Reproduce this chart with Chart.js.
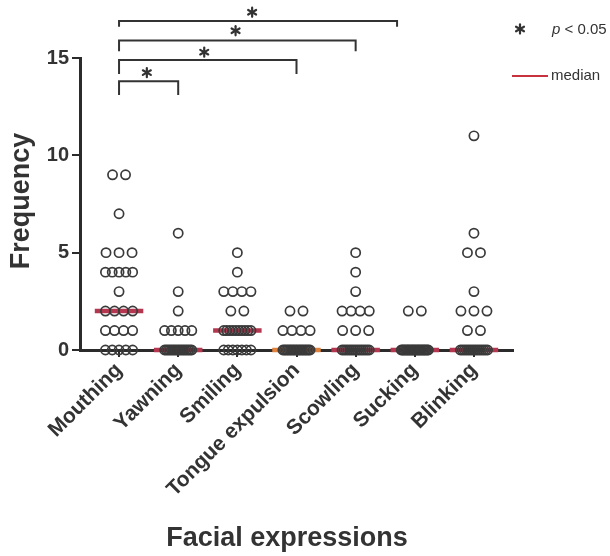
<!DOCTYPE html>
<html>
<head>
<meta charset="utf-8">
<script src="https://cdn.jsdelivr.net/npm/chart.js@4"></script>
<style>
  html, body { margin: 0; padding: 0; background: #fff; }
</style>
</head>
<body>
<canvas id="chart" width="610" height="556"></canvas>
<script>
// Facial expressions - scatter dot plot with medians and significance brackets

const categories = ['Mouthing', 'Yawning', 'Smiling', 'Tongue expulsion', 'Scowling', 'Sucking', 'Blinking'];

// per-subject frequencies (n = 25 each)
const mouthing = [9, 9, 7, 5, 5, 5, 4, 4, 4, 4, 4, 3, 2, 2, 2, 2, 1, 1, 1, 1, 0, 0, 0, 0, 0];
const yawning = [6, 3, 2, 1, 1, 1, 1, 1, 0, 0, 0, 0, 0, 0, 0, 0, 0, 0, 0, 0, 0, 0, 0, 0, 0];
const smiling = [5, 4, 3, 3, 3, 3, 2, 2, 1, 1, 1, 1, 1, 1, 1, 1, 1, 1, 0, 0, 0, 0, 0, 0, 0];
const tongueExpulsion = [2, 2, 1, 1, 1, 1, 0, 0, 0, 0, 0, 0, 0, 0, 0, 0, 0, 0, 0, 0, 0, 0, 0, 0, 0];
const scowling = [5, 4, 3, 2, 2, 2, 2, 1, 1, 1, 0, 0, 0, 0, 0, 0, 0, 0, 0, 0, 0, 0, 0, 0, 0];
const sucking = [2, 2, 0, 0, 0, 0, 0, 0, 0, 0, 0, 0, 0, 0, 0, 0, 0, 0, 0, 0, 0, 0, 0, 0, 0];
const blinking = [11, 6, 5, 5, 3, 2, 2, 2, 1, 1, 0, 0, 0, 0, 0, 0, 0, 0, 0, 0, 0, 0, 0, 0, 0];
const groups = [mouthing, yawning, smiling, tongueExpulsion, scowling, sucking, blinking];

const yTicks = [0, 5, 10, 15];

// significance brackets (category index positions, frequency heights)
const bracketFrom = [0, 0, 0, 0];
const bracketTo = [1, 3, 4, 4.7];
const bracketTop = [13.8, 14.9, 15.9, 16.9];
const bracketBottom = [13.1, 14.18, 15.35, 16.6];
const starX = [0.47, 1.44, 1.97, 2.25];
const starY = [14.25, 15.3, 16.4, 17.35];

const TEXT = '#333333';
const AXIS = '#2b2b2b';
const DOT = '#3a3a3a';
const MEDIAN = '#b5374f';
const FONT = "'Liberation Sans', Arial, Helvetica, sans-serif";
const medianColors = [MEDIAN, MEDIAN, MEDIAN, '#e0813d', MEDIAN, MEDIAN, MEDIAN];

const DOT_STEP = 0.22;       // spacing between neighbouring dots (x units)
const DOT_MAX_SPREAD = 0.46; // widest a row of dots may get
const MEDIAN_HALF = 0.41;

function median(values) {
    const s = [...values].sort((a, b) => a - b);
    const m = Math.floor(s.length / 2);
    return s.length % 2 ? s[m] : (s[m - 1] + s[m]) / 2;
}

// spread equal values sideways, like a scatter dot plot
function dotPoints(values, index) {
    const counts = {};
    values.forEach(v => { counts[v] = (counts[v] || 0) + 1; });
    const pts = [];
    Object.keys(counts).forEach(key => {
        const n = counts[key];
        const spread = Math.min((n - 1) * DOT_STEP, DOT_MAX_SPREAD);
        for (let k = 0; k < n; k++) {
            const off = n === 1 ? 0 : -spread / 2 + k * spread / (n - 1);
            pts.push({ x: index + off, y: Number(key) });
        }
    });
    return pts;
}

const datasets = [];

groups.forEach((values, i) => {
    const m = median(values);
    datasets.push({
        type: 'line',
        data: [{ x: i - MEDIAN_HALF, y: m }, { x: i + MEDIAN_HALF, y: m }],
        borderColor: medianColors[i],
        borderWidth: 4.5,
        pointRadius: 0,
        clip: false,
        order: 3
    });
});

datasets.push({
    type: 'scatter',
    data: groups.flatMap((values, i) => dotPoints(values, i)),
    pointRadius: 4.6,
    borderWidth: 1.7,
    borderColor: DOT,
    backgroundColor: 'rgba(0,0,0,0)',
    clip: false,
    order: 1
});

bracketFrom.forEach((from, b) => {
    datasets.push({
        type: 'line',
        data: [
            { x: from, y: bracketBottom[b] },
            { x: from, y: bracketTop[b] },
            { x: bracketTo[b], y: bracketTop[b] },
            { x: bracketTo[b], y: bracketBottom[b] }
        ],
        borderColor: '#333',
        borderWidth: 2,
        pointRadius: 0,
        tension: 0,
        clip: false,
        order: 2
    });
});

function drawAsterisk(ctx, x, y, r) {
    ctx.save();
    ctx.strokeStyle = '#333';
    ctx.lineWidth = 2.2;
    ctx.lineCap = 'round';
    for (let a = 0; a < 3; a++) {
        const ang = Math.PI / 2 + a * Math.PI / 3;
        ctx.beginPath();
        ctx.moveTo(x - r * Math.cos(ang), y - r * Math.sin(ang));
        ctx.lineTo(x + r * Math.cos(ang), y + r * Math.sin(ang));
        ctx.stroke();
    }
    ctx.restore();
}

const extrasPlugin = {
    id: 'extras',
    afterDatasetsDraw(chart) {
        const { ctx, scales: { x, y } } = chart;
        starX.forEach((sx, i) => drawAsterisk(ctx, x.getPixelForValue(sx), y.getPixelForValue(starY[i]), 4.6));

        // axis titles
        ctx.save();
        ctx.fillStyle = TEXT;
        ctx.textAlign = 'center';
        ctx.textBaseline = 'middle';
        ctx.font = 'bold 27px ' + FONT;
        ctx.fillText('Facial expressions', 287, 539);
        ctx.translate(22, 201);
        ctx.rotate(-Math.PI / 2);
        ctx.fillText('Frequency', 0, 0);
        ctx.restore();

        // legend
        drawAsterisk(ctx, 520, 29, 4.6);
        ctx.save();
        ctx.fillStyle = TEXT;
        ctx.textBaseline = 'middle';
        ctx.font = 'italic 15px ' + FONT;
        ctx.fillText('p', 552, 30);
        const pw = ctx.measureText('p').width;
        ctx.font = '15px ' + FONT;
        ctx.fillText(' < 0.05', 552 + pw, 30);
        ctx.fillText('median', 551, 76);
        ctx.strokeStyle = '#c8323e';
        ctx.lineWidth = 2.2;
        ctx.beginPath();
        ctx.moveTo(512, 76);
        ctx.lineTo(548, 76);
        ctx.stroke();
        ctx.restore();
    }
};

new Chart(document.getElementById('chart'), {
    type: 'scatter',
    data: { datasets },
    options: {
        responsive: false,
        animation: false,
        layout: { padding: { top: 58, right: 97, bottom: 0, left: 0 } },
        plugins: {
            legend: { display: false },
            tooltip: { enabled: false }
        },
        scales: {
            x: {
                type: 'linear',
                min: -0.66,
                max: 6.66,
                afterFit: s => { s.height = 206; },
                border: { color: AXIS, width: 3 },
                grid: { drawOnChartArea: false, tickLength: 7, color: AXIS, lineWidth: 2 },
                ticks: {
                    stepSize: 1,
                    includeBounds: false,
                    autoSkip: false,
                    minRotation: 45,
                    maxRotation: 45,
                    padding: 1,
                    color: TEXT,
                    font: { family: FONT, size: 21, weight: 'bold' },
                    callback: v => categories[v] ?? ''
                }
            },
            y: {
                min: 0,
                max: 15,
                afterFit: s => { s.width = 80; },
                afterBuildTicks: s => { s.ticks = yTicks.map(v => ({ value: v })); },
                border: { color: AXIS, width: 3 },
                grid: { drawOnChartArea: false, tickLength: 8, color: AXIS, lineWidth: 2 },
                ticks: {
                    padding: 3,
                    color: TEXT,
                    font: { family: FONT, size: 20, weight: 'bold' }
                }
            }
        }
    },
    plugins: [extrasPlugin]
});
</script>
</body>
</html>
